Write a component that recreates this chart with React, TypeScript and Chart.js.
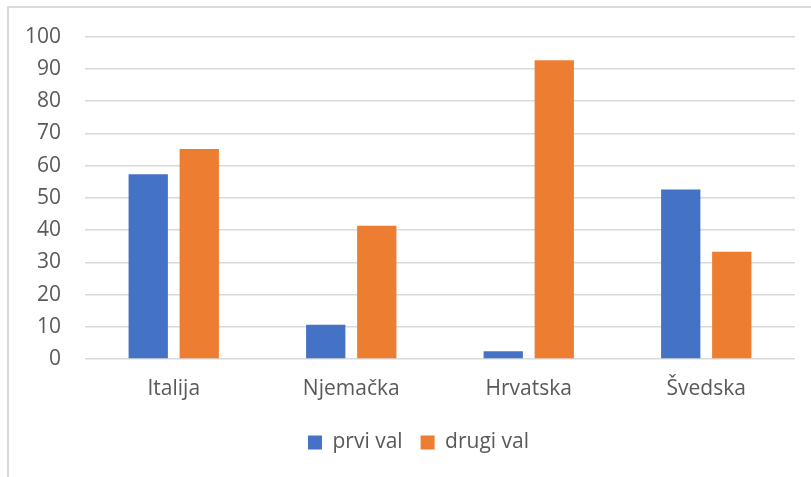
import React, { useEffect, useRef } from "react";
import { Chart, registerables } from "chart.js";

Chart.register(...registerables);

const categories = ["Italija", "Njemačka", "Hrvatska", "Švedska"];
const prviVal = [57.3, 10.6, 2.4, 52.6];
const drugiVal = [65.1, 41.3, 92.7, 33.3];
const seriesNames = ["prvi val", "drugi val"];
const yTicks = { min: 0, max: 100, step: 10 };

const shiftLegend = {
  id: "shiftLegend",
  afterLayout(chart: any) {
    if (chart.legend) {
      chart.legend.left += 21;
      chart.legend.right += 21;
    }
  },
};

export default function App() {
  const ref = useRef<HTMLCanvasElement | null>(null);

  useEffect(() => {
    if (!ref.current) return;
    const font = { family: "'Open Sans', sans-serif", size: 21 };
    const chart = new Chart(ref.current, {
      type: "bar",
      data: {
        labels: categories,
        datasets: [
          {
            label: seriesNames[0],
            data: prviVal,
            backgroundColor: "#4472C4",
            categoryPercentage: 0.575,
            barPercentage: 0.77,
          },
          {
            label: seriesNames[1],
            data: drugiVal,
            backgroundColor: "#ED7D31",
            categoryPercentage: 0.575,
            barPercentage: 0.77,
          },
        ],
      },
      plugins: [shiftLegend],
      options: {
        animation: false,
        responsive: false,
        maintainAspectRatio: false,
        layout: { padding: { left: 0, right: 16, top: 36, bottom: 14 } },
        plugins: {
          tooltip: { enabled: false },
          legend: {
            position: "bottom",
            labels: {
              color: "#595959",
              font,
              boxWidth: 14,
              boxHeight: 14,
              padding: 18,
            },
          },
        },
        scales: {
          x: {
            grid: { display: false },
            border: { display: false },
            ticks: { color: "#595959", font, padding: 9 },
            afterFit: (s: any) => {
              s.height = 55;
            },
          },
          y: {
            min: yTicks.min,
            max: yTicks.max,
            ticks: { stepSize: yTicks.step, color: "#595959", font, padding: 24 },
            grid: { color: "#d9d9d9", lineWidth: 1.5, drawTicks: false },
            border: { display: false },
            afterFit: (s: any) => {
              s.width = 85;
            },
          },
        },
      },
    });
    return () => chart.destroy();
  }, []);

  return (
    <div style={{ position: "fixed", left: 0, top: 0, width: 811, height: 477, background: "#fff", overflow: "hidden" }}>
      <div
        style={{
          position: "absolute",
          left: 7,
          top: 6,
          width: 830,
          height: 500,
          borderTop: "2px solid #d9d9d9",
          borderLeft: "2px solid #d9d9d9",
        }}
      />
      <canvas ref={ref} width={811} height={477} style={{ position: "absolute", left: 0, top: 0 }} />
    </div>
  );
}
